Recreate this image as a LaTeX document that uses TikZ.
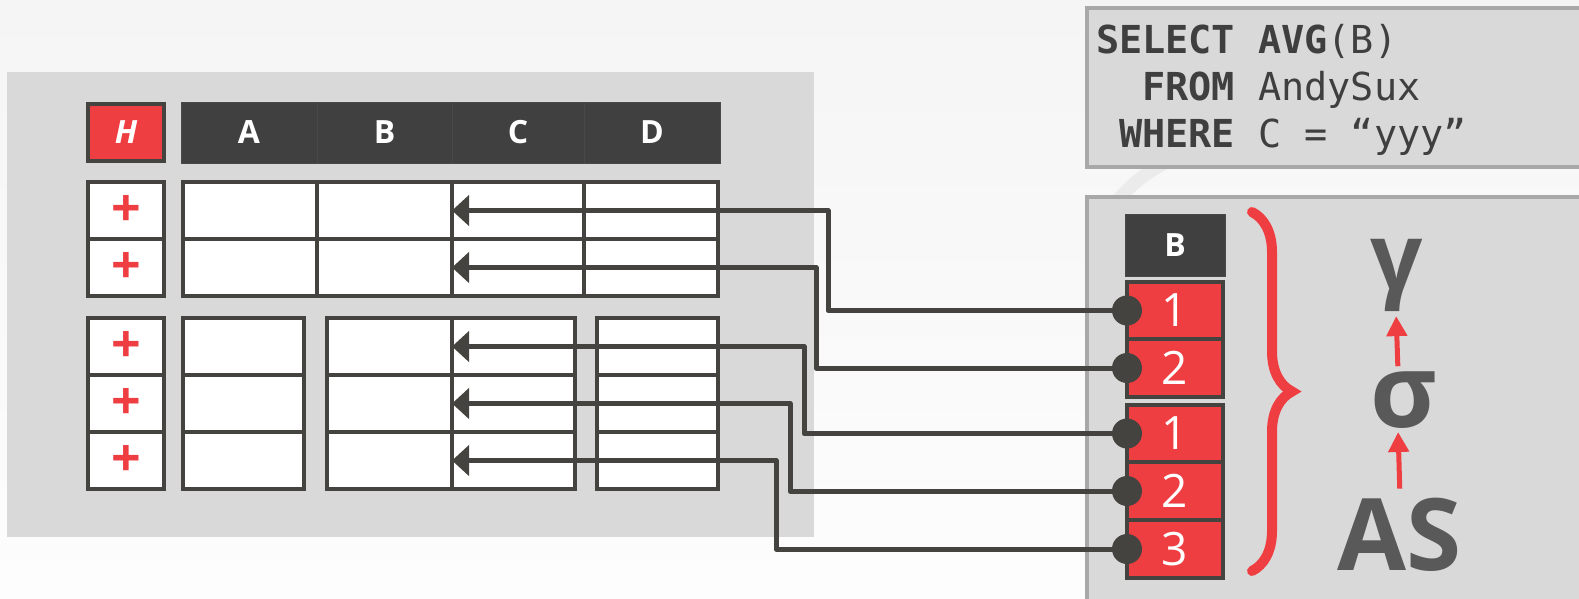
\documentclass[tikz,border=0pt]{standalone}
\usepackage{fontspec}
\setmainfont{Open Sans}
\setmonofont{DejaVu Sans Mono}
\usetikzlibrary{arrows.meta,decorations.pathreplacing}

\definecolor{pagetop}{HTML}{F5F5F5}
\definecolor{pagebot}{HTML}{FDFDFD}
\definecolor{arcgray}{HTML}{EBEBEB}
\definecolor{panelgray}{HTML}{D9D9D9}
\definecolor{panelline}{HTML}{A8A8A8}
\definecolor{tabdark}{HTML}{45433F}
\definecolor{hdrdark}{HTML}{404040}
\definecolor{hdrline}{HTML}{4B4946}
\definecolor{cmured}{HTML}{EF3E42}
\definecolor{symgray}{HTML}{595959}
\definecolor{sqltext}{HTML}{3F3F3F}

\begin{document}
\begin{tikzpicture}[
  x = 1pt, y = -1pt,
  every node/.style = {inner sep = 0pt, outer sep = 0pt},
  cell/.style = {
    draw = tabdark, line width = 4.5pt, fill = white,
    minimum height = 57pt
  },
  head/.style = {
    fill = hdrdark, draw = hdrline, line width = 1pt,
    minimum height = 61pt, text = white,
    font = \fontsize{32}{32}\selectfont\bfseries
  },
  plus/.style = {
    cell, minimum width = 76pt, text = cmured,
    font = \fontsize{52}{52}\selectfont\bfseries
  },
  redcell/.style = {
    cell, fill = cmured, minimum width = 96pt, text = white,
    font = \fontsize{46}{46}\selectfont
  },
  link/.style = {
    draw = tabdark, line width = 5pt, line join = round,
    -{Triangle[length = 17pt, width = 30pt]}
  },
  dot/.style = {circle, fill = tabdark, minimum size = 30pt},
  uparrow/.style = {
    draw = cmured, line width = 5pt,
    -{Triangle[length = 20pt, width = 20pt]}
  },
  sqlline/.style = {
    anchor = base west, text = sqltext,
    font = \ttfamily\fontsize{38.5}{38.5}\selectfont
  },
  sym/.style = {anchor = base, text = symgray},
  bracestroke/.style = {
    draw = cmured, line width = 10pt, line cap = round,
    decorate, decoration = {brace, amplitude = 40pt}
  }
]
  \useasboundingbox (0,0) rectangle (1579,598);
  \clip (0,0) rectangle (1579,598);

  % Hintergrund
  \shade[top color = pagetop, bottom color = pagebot] (0,0) rectangle (1579,598);
  \fill[panelgray] (7,72) rectangle (814,537);
  \draw[arcgray, line width = 13pt] (1112,207) .. controls (1130,185) and (1145,172) .. (1175,158);
  \draw[panelline, fill = panelgray, line width = 4pt] (1087,8) rectangle (1600,167);
  \draw[panelline, fill = panelgray, line width = 4pt] (1087,197) rectangle (1600,620);

  % Kopfzeile
  \node[cell, fill = cmured, minimum width = 76pt, text = white,
        font = \fontsize{32}{32}\selectfont\bfseries\itshape] (hh) at (126,132.5) {H};
  \node[head, minimum width = 136pt] (ha) at (249,132.5) {A};
  \node[head, minimum width = 135pt] (hb) at (384.5,132.5) {B};
  \node[head, minimum width = 132pt] (hc) at (518,132.5) {C};
  \node[head, minimum width = 136pt] (hd) at (652,132.5) {D};

  % obere Gruppe
  \node[plus] (p1) at (126,210.5) {\raisebox{-3pt}{+}};
  \node[plus] (p2) at (126,267.5) {\raisebox{-3pt}{+}};
  \node[cell, minimum width = 134pt] (a1) at (250,210.5) {};
  \node[cell, minimum width = 135pt] (b1) at (384.5,210.5) {};
  \node[cell, minimum width = 132pt] (c1) at (518,210.5) {};
  \node[cell, minimum width = 134pt] (d1) at (651,210.5) {};
  \node[cell, minimum width = 134pt] (a2) at (250,267.5) {};
  \node[cell, minimum width = 135pt] (b2) at (384.5,267.5) {};
  \node[cell, minimum width = 132pt] (c2) at (518,267.5) {};
  \node[cell, minimum width = 134pt] (d2) at (651,267.5) {};

  % untere Gruppe
  \node[plus] (p3) at (126,346.5) {\raisebox{-3pt}{+}};
  \node[plus] (p4) at (126,403.5) {\raisebox{-3pt}{+}};
  \node[plus] (p5) at (126,460.5) {\raisebox{-3pt}{+}};
  \node[cell, minimum width = 121pt] (a3) at (243.5,346.5) {};
  \node[cell, minimum width = 125pt] (b3) at (389.5,346.5) {};
  \node[cell, minimum width = 123pt] (c3) at (513.5,346.5) {};
  \node[cell, minimum width = 121pt] (d3) at (657.5,346.5) {};
  \node[cell, minimum width = 121pt] (a4) at (243.5,403.5) {};
  \node[cell, minimum width = 125pt] (b4) at (389.5,403.5) {};
  \node[cell, minimum width = 123pt] (c4) at (513.5,403.5) {};
  \node[cell, minimum width = 121pt] (d4) at (657.5,403.5) {};
  \node[cell, minimum width = 121pt] (a5) at (243.5,460.5) {};
  \node[cell, minimum width = 125pt] (b5) at (389.5,460.5) {};
  \node[cell, minimum width = 123pt] (c5) at (513.5,460.5) {};
  \node[cell, minimum width = 121pt] (d5) at (657.5,460.5) {};

  % SQL
  \node[sqlline] (sql1) at (1096,53) {\textbf{SELECT AVG}(B)};
  \node[sqlline] (sql2) at (1096,100) {\phantom{XX}\textbf{FROM} AndySux};
  \node[sqlline] (sql3) at (1096,147) {\phantom{X}\textbf{WHERE} C = “yyy”};

  % Spalte B
  \node[head, minimum width = 100pt, minimum height = 62pt] (rb) at (1175,245) {B};
  \node[redcell, minimum height = 57pt] (r1) at (1175,310.5) {1};
  \node[redcell, minimum height = 58pt] (r2) at (1175,368) {2};
  \node[redcell, minimum height = 57pt] (r3) at (1175,433.5) {1};
  \node[redcell, minimum height = 58pt] (r4) at (1175,491) {2};
  \node[redcell, minimum height = 58pt] (r5) at (1175,549) {3};

  % Operatoren
  \node[sym, font = \fontsize{92}{92}\selectfont\bfseries] (gamma) at (1397,289) {γ};
  \node[sym, font = \fontsize{102}{102}\selectfont\bfseries] (sigma) at (1404,427) {σ};
  \node[sym, font = \fontsize{100}{100}\selectfont\bfseries] (as) at (1400,570) {AS};
  \draw[uparrow, shorten <= 9pt, shorten >= 4pt] (as.north) -- ([xshift = -6pt]sigma.south);
  \draw[uparrow, shorten <= 5pt, shorten >= 5pt] ([xshift = -6pt]sigma.north) -- ([xshift = -1pt]gamma.south);
  \path[bracestroke] (1252,212) -- (1252,571);

  % Verweise
  \coordinate (v1) at (828,0);
  \coordinate (v2) at (816,0);
  \coordinate (v3) at (804,0);
  \coordinate (v4) at (790,0);
  \coordinate (v5) at (776,0);
  \draw[link] (r1.west) -- (r1.west -| v1) |- (c1.west);
  \draw[link] (r2.west) -- (r2.west -| v2) |- (c2.west);
  \draw[link] (r3.west) -- (r3.west -| v3) |- (c3.west);
  \draw[link] (r4.west) -- (r4.west -| v4) |- (c4.west);
  \draw[link] (r5.west) -- (r5.west -| v5) |- (c5.west);
  \node[dot] (d1) at (r1.west) {};
  \node[dot] (d2) at (r2.west) {};
  \node[dot] (d3) at (r3.west) {};
  \node[dot] (d4) at (r4.west) {};
  \node[dot] (d5) at (r5.west) {};
\end{tikzpicture}
\end{document}
